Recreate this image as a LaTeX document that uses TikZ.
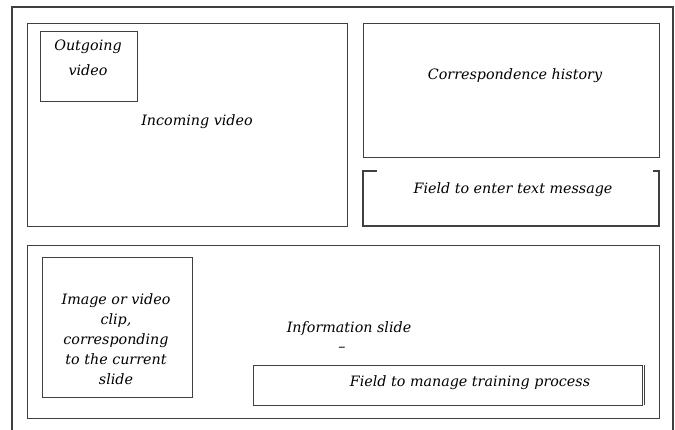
\documentclass[tikz,border=0pt]{standalone}
\usepackage{fontspec}
\setmainfont{DejaVu Serif}
\usetikzlibrary{calc}
\begin{document}
\begin{tikzpicture}[x=1pt,y=-1pt,
  frame/.style={draw=black!75, line width=1.1pt},
  box/.style={frame, inner sep=0pt, anchor=north west},
  lbl/.style={font=\itshape\fontsize{14.3}{20}\selectfont, text=black, align=center}]
\useasboundingbox (0,0) rectangle (675,430);
\fill[white] (0,0) rectangle (675,430);
% outer frame (no bottom edge visible)
\draw[frame] (12,430) -- (12,7) -- (673,7) -- (673,430);
% incoming video
\node[box, minimum width=320pt, minimum height=203pt] (incoming) at (27,23) {};
\node[box, minimum width=97pt, minimum height=70pt] (outgoing) at (40,31) {};
\node[lbl, font=\itshape\fontsize{14.3}{25}\selectfont] (outtext) at (88,58) {Outgoing\\video};
\node[lbl] (intext) at (197,122) {Incoming video};
% correspondence history
\node[box, minimum width=296pt, minimum height=134pt] (history) at (363,23) {};
\node[lbl] (histtext) at (515,76) {Correspondence history};
% field to enter text message (top edge has a gap)
\coordinate (ftl) at (363,171);
\coordinate (ftr) at (659,171);
\coordinate (fbl) at (363,226);
\coordinate (fbr) at (659,226);
\draw[frame] ($(ftl)+(14,0)$) -- (ftl) -- (fbl) -- (fbr) -- (ftr) -- ($(ftr)+(-6,0)$);
\node[lbl] (fieldtext) at (513,190) {Field to enter text message};
% bottom area
\node[box, minimum width=632pt, minimum height=173pt] (bottom) at (27,245) {};
\node[box, minimum width=150pt, minimum height=140pt] (image) at (42,257) {};
\node[lbl] (imgtext) at (116,339) {Image or video\\clip,\\corresponding\\to the current\\slide};
\node[lbl] (infotext) at (349,329) {Information slide};
\node[lbl] (dash) at (342,349) {–};
\node[box, minimum width=389pt, minimum height=40pt] (manage) at (253,365) {};
\draw[frame] (manage.north east) ++(1.2,0) -- ++(0,40);
\node[lbl] (managetext) at (470,383) {Field to manage training process};
\end{tikzpicture}
\end{document}
